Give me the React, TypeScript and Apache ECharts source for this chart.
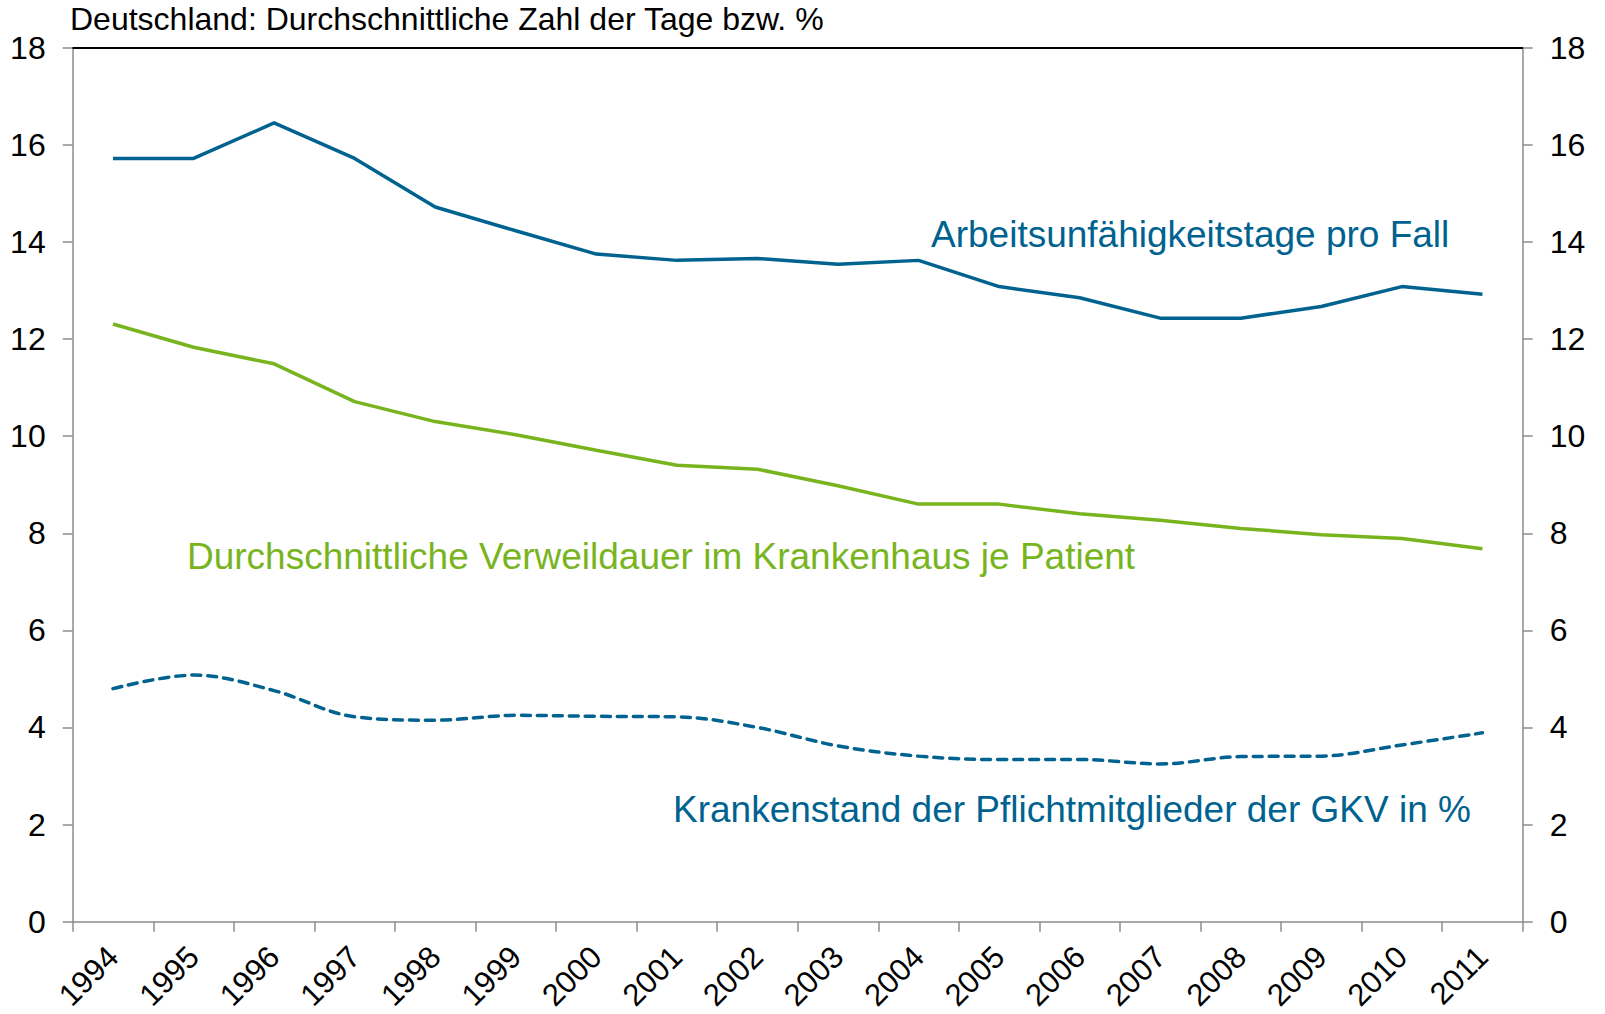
import React, { useEffect, useRef } from "react";
import * as echarts from "echarts";

const years = ["1994", "1995", "1996", "1997", "1998", "1999", "2000", "2001", "2002", "2003", "2004", "2005", "2006", "2007", "2008", "2009", "2010", "2011"];
const auTageProFall = [15.72, 15.72, 16.45, 15.72, 14.72, 14.23, 13.75, 13.62, 13.66, 13.54, 13.62, 13.08, 12.85, 12.43, 12.43, 12.67, 13.08, 12.92];
const verweildauer = [12.31, 11.83, 11.49, 10.71, 10.3, 10.03, 9.71, 9.4, 9.32, 8.98, 8.6, 8.6, 8.4, 8.27, 8.1, 7.97, 7.89, 7.68];
const krankenstand = [4.8, 5.08, 4.76, 4.22, 4.15, 4.25, 4.23, 4.22, 4.0, 3.62, 3.41, 3.34, 3.34, 3.25, 3.4, 3.41, 3.64, 3.89];

const titleText = "Deutschland: Durchschnittliche Zahl der Tage bzw. %";
const labelAU = "Arbeitsunfähigkeitstage pro Fall";
const labelVD = "Durchschnittliche Verweildauer im Krankenhaus je Patient";
const labelKS = "Krankenstand der Pflichtmitglieder der GKV in %";

const BLUE = "#00628f";
const GREEN = "#78b41e";
const GRAY = "#8c8c8c";
const FONT = "'Liberation Sans', Arial, sans-serif";

export default function App() {
  const ref = useRef<HTMLDivElement>(null);
  useEffect(() => {
    document.body.style.margin = "0";
    const chart = echarts.init(ref.current!, null, { renderer: "svg" });
    const yAxisBase = (pos: "left" | "right") => ({
      type: "value" as const,
      position: pos,
      min: 0,
      max: 18,
      interval: 2,
      axisLine: { show: true, lineStyle: { color: GRAY, width: 1.5 } },
      axisTick: { show: true, inside: false, length: 10, lineStyle: { color: GRAY, width: 1.5 } },
      splitLine: { show: false },
      axisLabel: { color: "#000", fontSize: 32, fontFamily: FONT, margin: 27 },
    });
    chart.setOption({
      animation: false,
      backgroundColor: "#fff",
      grid: { left: 72.7, right: 82.3, top: 47.7, bottom: 92.3, containLabel: false },
      xAxis: [
        {
          type: "category",
          data: years,
          boundaryGap: true,
          position: "bottom",
          axisLine: { show: true, onZero: false, lineStyle: { color: GRAY, width: 1.5 } },
          axisTick: { show: true, inside: false, length: 10, alignWithLabel: false, lineStyle: { color: GRAY, width: 1.5 } },
          axisLabel: { color: "#000", fontSize: 31, fontFamily: FONT, rotate: 45, margin: 30, interval: 0 },
          splitLine: { show: false },
        },
        {
          type: "category",
          data: years,
          position: "top",
          axisLine: { show: true, onZero: false, lineStyle: { color: "#000", width: 2 } },
          axisTick: { show: false },
          axisLabel: { show: false },
          splitLine: { show: false },
        },
      ],
      yAxis: [yAxisBase("left"), yAxisBase("right")],
      series: [
        {
          name: labelAU,
          type: "line",
          data: auTageProFall,
          showSymbol: false,
          symbol: "none",
          lineStyle: { color: BLUE, width: 3.5 },
          itemStyle: { color: BLUE },
        },
        {
          name: labelVD,
          type: "line",
          data: verweildauer,
          showSymbol: false,
          symbol: "none",
          lineStyle: { color: GREEN, width: 3.5 },
          itemStyle: { color: GREEN },
        },
        {
          name: labelKS,
          type: "line",
          data: krankenstand,
          showSymbol: false,
          symbol: "none",
          smooth: 0.35,
          lineStyle: { color: BLUE, width: 3.5, type: [9, 7], cap: "round" },
          itemStyle: { color: BLUE },
        },
      ],
      graphic: [
        {
          type: "text",
          left: 70,
          top: 3,
          style: { text: titleText, fill: "#000", font: `32px ${FONT}` },
        },
        {
          type: "text",
          x: 931,
          y: 234,
          style: { text: labelAU, fill: BLUE, font: `37px ${FONT}`, verticalAlign: "middle", align: "left" },
        },
        {
          type: "text",
          x: 187,
          y: 556,
          style: { text: labelVD, fill: GREEN, font: `37px ${FONT}`, verticalAlign: "middle", align: "left" },
        },
        {
          type: "text",
          x: 673,
          y: 809,
          style: { text: labelKS, fill: BLUE, font: `37px ${FONT}`, verticalAlign: "middle", align: "left" },
        },
      ],
    });
    return () => chart.dispose();
  }, []);
  return <div ref={ref} style={{ position: "fixed", left: 0, top: 0, width: 1605, height: 1014 }} />;
}
